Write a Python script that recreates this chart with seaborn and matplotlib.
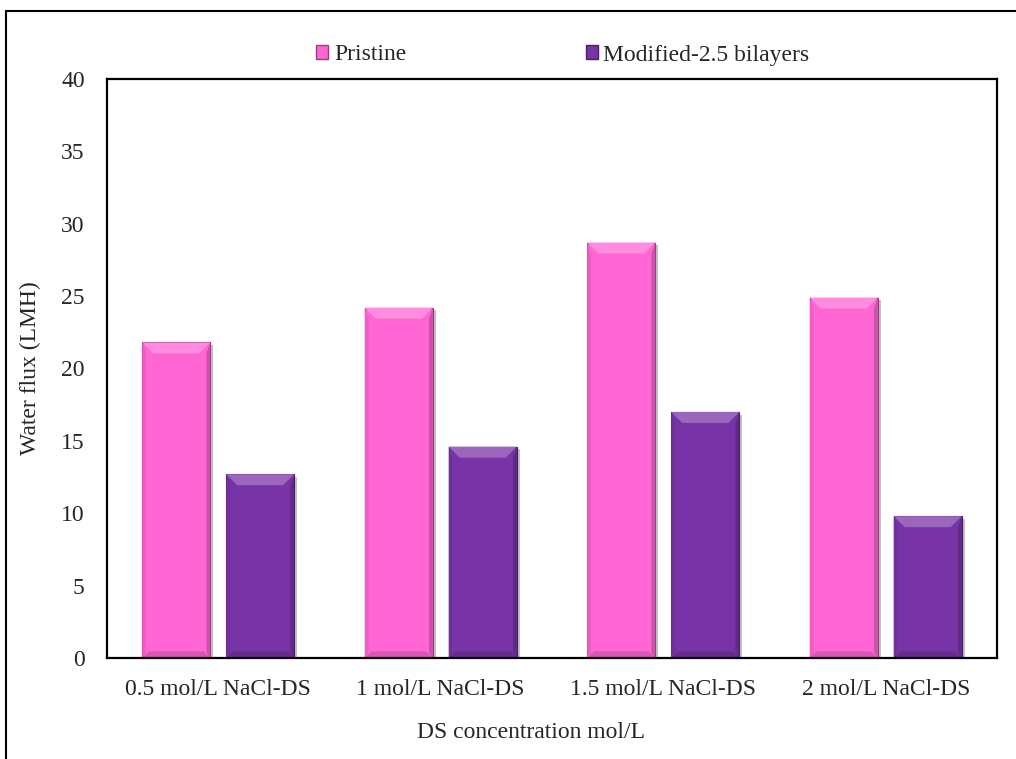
import matplotlib
matplotlib.use("Agg")
import matplotlib.pyplot as plt
import matplotlib.patheffects as pe
from matplotlib.patches import Polygon, Rectangle
from matplotlib.colors import to_rgb
import numpy as np
import pandas as pd
import seaborn as sns

# Water flux data
categories = ["0.5 mol/L NaCl-DS", "1 mol/L NaCl-DS", "1.5 mol/L NaCl-DS", "2 mol/L NaCl-DS"]
series_names = ["Pristine", "Modified-2.5 bilayers"]
pristine = [21.8, 24.2, 28.7, 24.9]
modified = [12.7, 14.6, 17.0, 9.8]
y_ticks = [0, 5, 10, 15, 20, 25, 30, 35, 40]

colors = {"Pristine": "#FF66D4", "Modified-2.5 bilayers": "#7834A6"}

df = pd.DataFrame({
    "category": categories * 2,
    "series": [series_names[0]] * 4 + [series_names[1]] * 4,
    "flux": pristine + modified,
})

sns.set_theme(style="white")
plt.rcParams["font.family"] = ["Liberation Serif", "DejaVu Serif"]
FS = 17

fig = plt.figure(figsize=(10.16, 7.59), dpi=100)
ax = fig.add_axes([107 / 1016, 1 - 658 / 759, (997 - 107) / 1016, (658 - 79) / 759])

sns.barplot(data=df, x="category", y="flux", hue="series", palette=colors,
            order=categories, hue_order=series_names, width=0.755, gap=0.19,
            ax=ax, legend=False, saturation=1)

ax.set_ylim(0, 40)
ax.set_xlim(-0.5, 3.5)
ax.set_yticks(y_ticks)
ax.set_yticklabels([str(t) for t in y_ticks], fontsize=FS)
ax.tick_params(axis="x", labelsize=FS, length=0, pad=15)
ax.tick_params(axis="y", length=0, pad=16)
ax.set_xlabel("")
ax.set_ylabel("")
for s in ax.spines.values():
    s.set_color("black")
    s.set_linewidth(1.6)

# bevel shading on each bar
bev_px = 11
ppu_x = ax.get_window_extent().width / 4.0
ppu_y = ax.get_window_extent().height / 40.0

def shade(c, f):
    r, g, b = to_rgb(c)
    if f > 1:
        return tuple(min(1, v + (1 - v) * (f - 1)) for v in (r, g, b))
    return tuple(v * f for v in (r, g, b))

bars = [p for p in ax.patches if isinstance(p, Rectangle) and p.get_height() > 0]
for p in bars:
    x0, y0 = p.get_x(), p.get_y()
    w, h = p.get_width(), p.get_height()
    x1, y1 = x0 + w, y0 + h
    dx = bev_px / ppu_x
    dy = bev_px / ppu_y
    base = p.get_facecolor()
    p.set_edgecolor(shade(base, 0.55))
    p.set_linewidth(0.8)
    p.set_path_effects([pe.SimplePatchShadow(offset=(2, -2), shadow_rgbFace="#888888", alpha=0.5), pe.Normal()])
    top = Polygon([(x0, y1), (x1, y1), (x1 - dx, y1 - dy), (x0 + dx, y1 - dy)],
                  closed=True, facecolor=shade(base, 1.25), edgecolor="none", zorder=p.get_zorder() + 0.1)
    left = Polygon([(x0, y1), (x0 + dx * 0.35, y1 - dy), (x0 + dx * 0.35, y0 + dy * 0.5), (x0, y0)],
                   closed=True, facecolor=shade(base, 0.93), edgecolor="none", zorder=p.get_zorder() + 0.1)
    right = Polygon([(x1, y1), (x1 - dx * 0.35, y1 - dy), (x1 - dx * 0.35, y0 + dy * 0.5), (x1, y0)],
                    closed=True, facecolor=shade(base, 0.8), edgecolor="none", zorder=p.get_zorder() + 0.1)
    bottom = Polygon([(x0, y0), (x1, y0), (x1 - dx * 0.6, y0 + dy * 0.6), (x0 + dx * 0.6, y0 + dy * 0.6)],
                     closed=True, facecolor=shade(base, 0.85), edgecolor="none", zorder=p.get_zorder() + 0.1)
    for poly in (left, right, bottom, top):
        ax.add_patch(poly)

# legend
handles = [Rectangle((0, 0), 1, 1, facecolor=colors[n], edgecolor=shade(colors[n], 0.6)) for n in series_names]
fig.legend(handles, series_names, loc="center", bbox_to_anchor=(563 / 1016, 1 - 55 / 759), ncol=2,
           frameon=False, fontsize=FS, handlelength=0.5, handleheight=0.5, handletextpad=0.25,
           columnspacing=7.6)

fig.text(30 / 1016, 1 - 368 / 759, "Water flux (LMH)", rotation=90, ha="center", va="center", fontsize=FS)
fig.text(531 / 1016, 1 - 733 / 759, "DS concentration mol/L", ha="center", va="center", fontsize=FS)

# chart area border
fig.patches.append(Rectangle((6 / 1016, -0.1), 1.2, 1 - 11 / 759 + 0.1, transform=fig.transFigure,
                             fill=False, edgecolor="black", linewidth=1.5, zorder=-1))

fig.savefig("out.png", dpi=100)
